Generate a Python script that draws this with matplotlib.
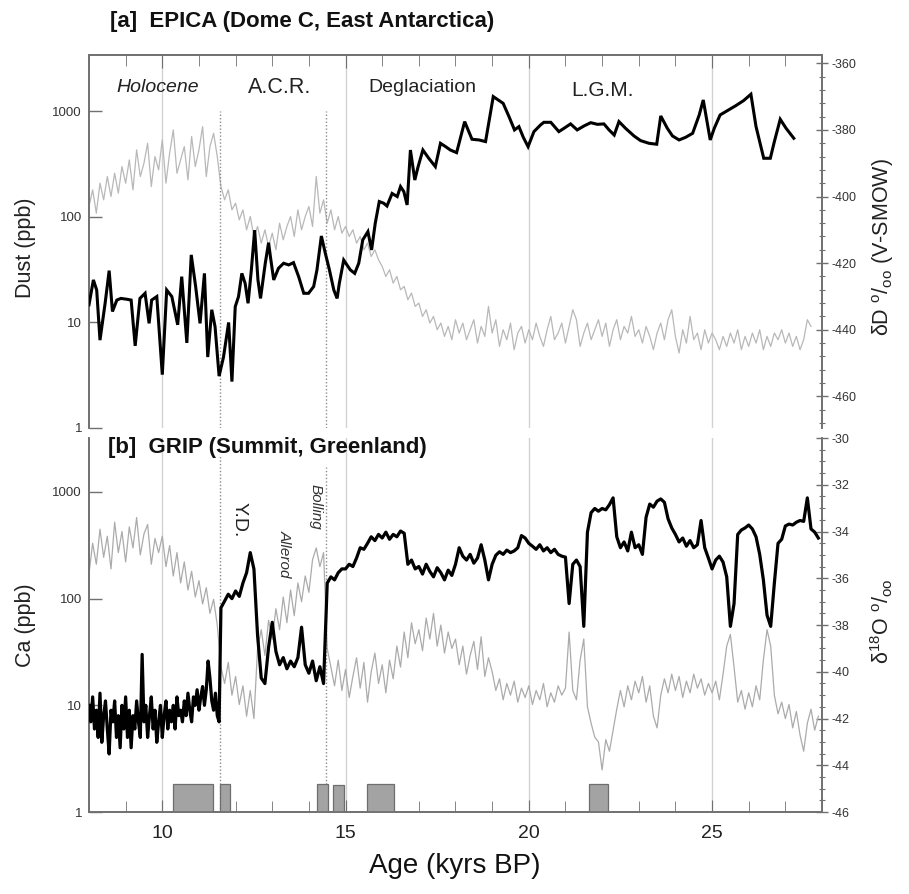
import numpy as np
import matplotlib
matplotlib.use("Agg")
import matplotlib.pyplot as plt
from matplotlib.patches import Rectangle
from matplotlib.ticker import (FixedLocator, NullLocator, MultipleLocator,
                               AutoMinorLocator, FuncFormatter)

plt.rcParams["font.family"] = ["Liberation Sans", "DejaVu Sans"]
plt.rcParams["mathtext.fontset"] = "custom"
plt.rcParams["mathtext.rm"] = "Liberation Sans"
plt.rcParams["mathtext.it"] = "Liberation Sans:italic"
plt.rcParams["axes.unicode_minus"] = False

# ---------------- [a] EPICA Dome C ----------------
# dust (ppb), irregular sampling
dust_age = [8.0, 8.12, 8.21, 8.30, 8.44, 8.55, 8.64, 8.76, 8.87, 9.03,
            9.15, 9.26, 9.39, 9.53, 9.64, 9.71, 9.85, 10.0, 10.12, 10.26,
            10.42, 10.53, 10.67, 10.79, 10.91, 11.03, 11.15, 11.24, 11.35, 11.44,
            11.55, 11.67, 11.81, 11.90, 11.99, 12.08, 12.17, 12.26, 12.34, 12.43,
            12.52, 12.61, 12.68, 12.81, 12.90, 12.95, 13.04, 13.17, 13.31, 13.45,
            13.58, 13.72, 13.86, 13.99, 14.13, 14.22, 14.34, 14.45, 14.56, 14.68,
            14.77, 14.83, 14.95, 15.04, 15.13, 15.25, 15.36, 15.47, 15.61, 15.71,
            15.81, 15.92, 16.04, 16.13, 16.27, 16.41, 16.50, 16.59, 16.68, 16.77,
            16.89, 16.98, 17.11, 17.27, 17.45, 17.59, 17.73, 17.86,
            18.03, 18.25, 18.45, 18.64, 18.82, 19.03, 19.14, 19.30, 19.46, 19.61,
            19.73, 19.85, 19.98, 20.14, 20.32, 20.41, 20.60, 20.82, 20.96, 21.14,
            21.32, 21.51, 21.69, 21.87, 22.05, 22.19, 22.33, 22.46, 22.64, 22.87,
            23.05, 23.28, 23.49, 23.60, 23.78, 23.92, 24.10, 24.28, 24.47, 24.65,
            24.76, 24.95, 25.06, 25.22, 25.42, 25.65, 25.86, 26.06, 26.20, 26.41,
            26.59, 26.70, 26.86, 27.02, 27.23]
dust_ppb = [14.7, 25.3, 20.3, 6.8, 15.2, 31, 12.7, 16.3, 16.9, 16.6,
            16.3, 6.0, 16.9, 18.9, 9.8, 16.3, 17.6, 3.2, 20.3, 17.6,
            9.5, 27.2, 6.4, 43.7, 21.9, 9.8, 29.2, 4.7, 13.2, 9.1,
            3.1, 4.7, 10.0, 2.75, 14.1, 17.6, 29.2, 23.5, 15.2, 31.5,
            75, 25.3, 16.9, 36.4, 57, 42, 25.3, 32.6, 36.4, 35.1,
            36.9, 27.2, 18.9, 18.9, 21.9, 31.5, 66, 45, 31.5, 20.3,
            16.9, 23.5, 39, 35.1, 31.5, 29.2, 36.4, 60.6, 72.6, 48.7,
            87, 140, 135, 127, 167, 156, 194, 174, 130, 431,
            224, 300, 431, 360, 300, 499, 464, 431,
            407, 801, 545, 537, 518, 1383, 1304, 1194, 893, 668,
            718, 569, 464, 644, 745, 789, 789, 644, 692, 762,
            668, 730, 783, 755, 762, 668, 598, 801, 692, 586,
            529, 499, 489, 906, 692, 586, 537, 569, 621, 927,
            1285, 537, 692, 927, 1018, 1136, 1267, 1456, 718, 360,
            360, 518, 843, 692, 557]

# deuterium (permil), 0.1 kyr steps from 8.0 to 27.7
dd_age = np.arange(80, 278) / 10
dd_permil = [
    -403, -398, -405, -396, -401, -394, -400, -393, -399, -391,
    -396, -389, -398, -386, -394, -390, -384, -397, -388, -392,
    -383, -396, -387, -380, -393, -389, -385, -395, -382, -391,
    -386, -379, -394, -385, -381, -388, -397, -401, -398, -404,
    -402, -407, -404, -410, -406, -412, -409, -414, -410, -415,
    -411, -416, -408, -413, -409, -406, -412, -404, -410, -406,
    -403, -409, -394, -405, -401, -408, -404, -410, -406, -411,
    -409, -412, -410, -414, -412, -416, -414, -418, -416, -419,
    -421, -424, -422, -426, -424, -428, -427, -431, -429, -433,
    -432, -436, -434, -438, -436, -440, -438, -442, -439, -443,
    -437, -441, -438, -443, -440, -437, -444, -439, -442, -433,
    -441, -437, -445, -440, -443, -438, -446, -441, -439, -444,
    -440, -443, -438, -442, -445, -440, -436, -443, -441, -438,
    -444, -439, -434, -437, -445, -441, -438, -443, -440, -437,
    -442, -438, -445, -440, -437, -443, -439, -441, -436, -442,
    -440, -444, -439, -442, -446, -441, -438, -443, -437, -434,
    -442, -447, -440, -444, -436, -443, -441, -446, -440, -444,
    -441, -443, -446, -442, -445, -441, -444, -440, -446, -442,
    -445, -441, -444, -440, -446, -442, -445, -441, -443, -440,
    -444, -441, -445, -442, -446, -443, -437, -439]

# ---------------- [b] GRIP Summit ----------------
# calcium (ppb): 0.05 kyr steps through the Holocene, 0.1 kyr after 11.6
ca_age = np.concatenate([np.arange(160, 232) / 20, np.arange(116, 280) / 10])
ca_ppb = [
    10, 7, 12, 6, 9, 5, 13, 4.5, 8, 11,
    6, 3.5, 9, 7, 11, 5, 8, 4, 10, 6,
    12, 5, 9, 4, 8, 6, 11, 7, 5, 30,
    7, 10, 5, 8, 12, 6, 9, 4.5, 7, 10,
    5, 8, 11, 6, 9, 7, 10, 6, 12, 8,
    9, 7, 11, 8, 13, 9, 7, 12, 10, 14,
    9, 12, 15, 10, 14, 26, 18, 11, 9, 13, 8, 7,
    82, 95, 110, 100,
    118, 105, 140, 175, 270, 190, 45, 18, 16, 35,
    60, 32, 24, 28, 22, 26, 23, 28, 54, 24,
    20, 26, 17, 23, 16, 140, 160, 150, 175, 190,
    190, 210, 200, 240, 300, 290, 330, 380, 350, 400,
    370, 420, 360, 400, 380, 430, 410, 210, 230, 190,
    200, 170, 210, 180, 160, 195, 175, 150, 185, 165,
    210, 300, 250, 230, 260, 215, 240, 320, 230, 150,
    210, 255, 275, 260, 285, 270, 280, 300, 390, 370,
    330, 310, 290, 320, 280, 300, 270, 290, 260, 250,
    245, 90, 210, 230, 200, 55, 420, 640, 700, 660,
    700, 680, 760, 880, 380, 300, 340, 280, 420, 300,
    320, 260, 580, 770, 720, 820, 860, 800, 560, 460,
    400, 340, 370, 310, 350, 300, 320, 540, 300, 240,
    190, 230, 250, 220, 160, 55, 90, 400, 440, 460,
    490, 450, 380, 260, 150, 70, 55, 140, 330, 360,
    480, 500, 490, 520, 540, 530, 880, 450, 420, 370]

# oxygen isotopes (permil), 0.1 kyr steps from 8.0 to 27.9
d18o_age = np.arange(80, 280) / 10
d18o_permil = [
    -35.8, -34.5, -35.4, -33.9, -35.1, -34.2, -35.6, -33.6, -34.9, -34.0,
    -35.3, -33.8, -34.7, -33.4, -35.0, -34.1, -33.7, -35.4, -34.3, -34.9,
    -34.2, -35.5, -34.6, -35.9, -34.9, -36.2, -35.3, -36.5, -35.7, -36.8,
    -36.1, -37.1, -36.4, -37.5, -36.9, -38.0, -39.8, -40.5, -39.6, -41.0,
    -40.2, -41.4, -40.6, -41.9, -40.8, -42.0, -39.0, -38.2, -39.3, -37.8,
    -38.6, -37.3, -38.2, -36.8, -37.9, -36.5, -37.6, -36.2, -37.0, -35.9,
    -36.6, -35.2, -34.7, -35.5, -34.9, -39.0, -39.8, -40.6, -39.5, -40.8,
    -39.9, -41.1, -40.2, -39.4, -40.7, -39.6, -41.3, -40.0, -39.2, -40.5,
    -39.7, -40.9, -39.5, -40.3, -38.9, -39.8, -38.3, -39.4, -37.9, -38.8,
    -38.2, -39.1, -37.7, -38.6, -37.5, -38.9, -38.0, -39.2, -38.3, -39.0,
    -38.6, -39.7, -38.9, -40.1, -39.3, -38.7, -39.9, -38.5, -40.2, -39.4,
    -40.0, -40.8, -40.3, -41.2, -40.5, -41.0, -40.4, -41.3, -40.7, -41.1,
    -40.6, -41.4, -40.8, -41.2, -40.5, -41.5, -40.9, -41.3, -40.6, -41.0,
    -40.7, -38.3, -40.8, -41.2, -39.5, -38.6, -41.5, -42.2, -42.8, -43.0,
    -44.2, -42.9, -43.4, -42.5, -41.6, -40.8, -41.5, -40.6, -41.2, -40.4,
    -40.9, -40.2, -41.3, -40.6, -41.9, -42.4, -41.0, -40.3, -40.9, -40.1,
    -40.8, -40.2, -41.1, -40.4, -40.9, -40.1, -40.7, -40.3, -41.0, -40.5,
    -40.9, -40.4, -41.2, -40.1, -38.9, -38.4, -39.8, -41.3, -40.8, -41.6,
    -40.9, -41.5, -40.6, -41.2, -39.5, -38.2, -38.9, -41.0, -41.8, -41.3,
    -42.0, -41.4, -42.4, -41.7, -42.7, -43.4, -42.2, -41.6, -42.5, -41.9]

# grey boxes along the bottom of panel b (start, end, top in ppb)
box_start = [10.30, 11.57, 14.23, 14.67, 15.59, 21.65]
box_end = [11.38, 11.85, 14.52, 14.95, 16.32, 22.17]
box_top = [1.85, 1.85, 1.85, 1.78, 1.85, 1.82]

grid_ages = [10, 15, 20, 25]
transition_ages = [11.58, 14.47]

SPINE = "#707070"
GREY_A = "#b8b8b8"
GREY_B = "#ababab"

fig = plt.figure(figsize=(9.09, 8.94), dpi=100)
ax_a = fig.add_axes([0.0979, 0.5213, 0.8064, 0.4172])
ax_b = fig.add_axes([0.0979, 0.0917, 0.8064, 0.4183])
ax_a2 = ax_a.twinx()
ax_b2 = ax_b.twinx()

for left, right in ((ax_a, ax_a2), (ax_b, ax_b2)):
    left.set_zorder(right.get_zorder() + 1)
    left.patch.set_visible(False)
    left.set_xlim(8, 28)
    left.set_yscale("log")
    left.yaxis.set_major_locator(FixedLocator([1, 10, 100, 1000]))
    left.yaxis.set_major_formatter(FuncFormatter(lambda v, p: f"{v:g}"))
    left.yaxis.set_minor_locator(NullLocator())
    left.tick_params(axis="y", direction="in", length=9, width=1, color=SPINE,
                     labelsize=9.5, pad=5, labelcolor="#333333")
    left.xaxis.set_major_locator(MultipleLocator(5))
    left.xaxis.set_minor_locator(MultipleLocator(1))
    right.tick_params(axis="y", which="major", direction="inout", length=8,
                      width=1, color=SPINE, labelsize=9, pad=3,
                      labelcolor="#333333")
    right.tick_params(axis="y", which="minor", direction="inout", length=4,
                      width=0.8, color=SPINE)
    for a in (left, right):
        for sp in a.spines.values():
            sp.set_color(SPINE)
            sp.set_linewidth(1.2)
    for g in grid_ages:
        right.axvline(g, color="#d2d2d2", lw=1.0, zorder=0)

# panel a
ax_a.set_ylim(1, 3430)
ax_a2.set_ylim(-469.5, -357.5)
ax_a2.yaxis.set_major_locator(MultipleLocator(20))
ax_a2.yaxis.set_minor_locator(AutoMinorLocator(5))
ax_a.tick_params(axis="x", which="both", top=True, bottom=False,
                 labelbottom=False, direction="in", color=SPINE)
ax_a.tick_params(axis="x", which="major", length=9)
ax_a.tick_params(axis="x", which="minor", length=8)
for a in (ax_a, ax_a2):
    a.spines["bottom"].set_visible(False)

ax_a2.plot(dd_age, dd_permil, color=GREY_A, lw=0.9, zorder=2)
ax_a.vlines(transition_ages, 1, 1000, colors="#8c8c8c", lw=1.0,
            linestyles=(0, (1, 1.5)), zorder=1)
ax_a.plot(dust_age, dust_ppb, color="black", lw=2.2, zorder=3,
          solid_joinstyle="miter")

# panel b
ax_b.set_ylim(1, 3200)
ax_b2.set_ylim(-46, -30)
ax_b2.yaxis.set_major_locator(MultipleLocator(2))
ax_b2.yaxis.set_minor_locator(AutoMinorLocator(4))
ax_b.tick_params(axis="x", which="both", top=False, bottom=True,
                 direction="in", color=SPINE, labelsize=14, pad=9,
                 labelcolor="#222222")
ax_b.tick_params(axis="x", which="major", length=9)
ax_b.tick_params(axis="x", which="minor", length=8)
for a in (ax_b, ax_b2):
    a.spines["top"].set_visible(False)

ax_b2.plot(d18o_age, d18o_permil, color=GREY_B, lw=0.9, zorder=2)
ax_b.vlines(transition_ages, 1, [2200, 1700], colors="#8c8c8c", lw=1.0,
            linestyles=(0, (1, 1.5)), zorder=1)
for x0, x1, top in zip(box_start, box_end, box_top):
    ax_b.add_patch(Rectangle((x0, 1), x1 - x0, top - 1, facecolor="#a3a3a3",
                             edgecolor="#6e6e6e", lw=0.9, zorder=2))
ax_b.plot(ca_age, ca_ppb, color="black", lw=2.3, zorder=3)

# period labels
xa = ax_a.get_xaxis_transform()
ax_a.text(9.88, 0.914, "Holocene", transform=xa, ha="center", va="center",
          fontsize=14, style="italic", color="#222222")
ax_a.text(13.21, 0.914, "A.C.R.", transform=xa, ha="center", va="center",
          fontsize=15.5, color="#222222")
ax_a.text(17.09, 0.912, "Deglaciation", transform=xa, ha="center",
          va="center", fontsize=14, color="#222222")
ax_a.text(22.0, 0.906, "L.G.M.", transform=xa, ha="center", va="center",
          fontsize=15, color="#222222")

xb = ax_b.get_xaxis_transform()
ax_b.text(12.09, 0.781, "Y.D.", transform=xb, ha="center", va="center",
          rotation=270, fontsize=14, color="#222222")
ax_b.text(13.35, 0.690, "Allerod", transform=xb, ha="center", va="center",
          rotation=270, fontsize=11, style="italic", color="#333333")
ax_b.text(14.17, 0.816, "Bolling", transform=xb, ha="center", va="center",
          rotation=270, fontsize=11, style="italic", color="#333333")

# titles and axis labels
W, H = 909, 894
fig.text(110 / W, 1 - 22 / H, "[a]  EPICA (Dome C, East Antarctica)",
         ha="left", va="center", fontsize=16, weight="bold", color="#111111")
fig.text(108 / W, 1 - 447 / H, "[b]  GRIP (Summit, Greenland)",
         ha="left", va="center", fontsize=16, weight="bold", color="#111111")
fig.text(25 / W, 1 - 248 / H, "Dust (ppb)", rotation=90, ha="center",
         va="center", fontsize=15.5, color="#222222")
fig.text(25 / W, 1 - 625 / H, "Ca (ppb)", rotation=90, ha="center",
         va="center", fontsize=15.5, color="#222222")
fig.text(883 / W, 1 - 247 / H, r"δD $^{\mathrm{o}}/_{\mathrm{oo}}$ (V-SMOW)",
         rotation=90, ha="center", va="center", fontsize=15.5,
         color="#222222")
fig.text(882 / W, 1 - 621 / H, r"δ$^{18}$O $^{\mathrm{o}}/_{\mathrm{oo}}$",
         rotation=90, ha="center", va="center", fontsize=15.5,
         color="#222222")
fig.text(455 / W, 1 - 866 / H, "Age (kyrs BP)", ha="center", va="center",
         fontsize=20, color="#111111")

fig.savefig("out.png", dpi=100)
